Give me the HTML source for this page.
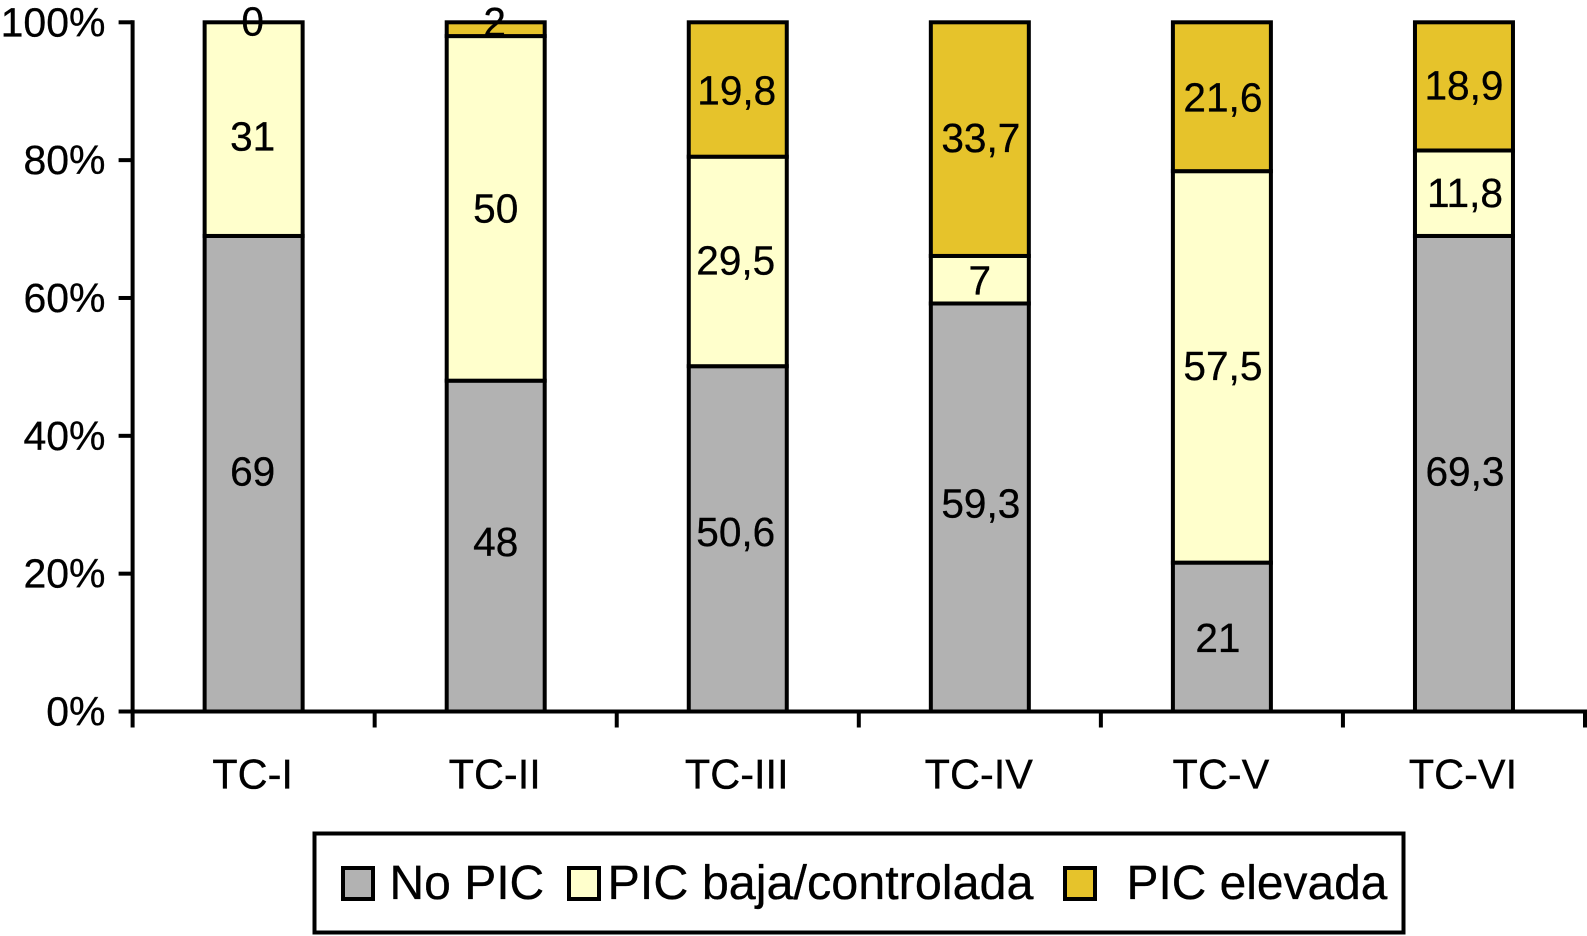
<!DOCTYPE html>
<html lang="es">
<head>
<meta charset="utf-8">
<title>PIC por categoría TC</title>
<style>
html,body{margin:0;padding:0;background:#fff;width:1587px;height:936px;overflow:hidden}
svg{display:block;font-family:"Liberation Sans",Arial,sans-serif;fill:#000}
text{stroke:#000;stroke-width:.3px}
</style>
</head>
<body>
<svg id="chart" width="1587" height="936" viewBox="0 0 1587 936" xmlns="http://www.w3.org/2000/svg">
  <g id="bars"></g>
  <g id="axes"></g>
  <g id="values"></g>
  <g>
    <rect x="314.5" y="833.5" width="1089" height="99" fill="#fff" stroke="#000" stroke-width="4"/>
    <rect x="343" y="868" width="30" height="31" fill="#b2b2b2" stroke="#000" stroke-width="4"/>
    <text x="389.5" y="899" font-size="48">No PIC</text>
    <rect x="569" y="868" width="30" height="31" fill="#ffffcc" stroke="#000" stroke-width="4"/>
    <text x="607.5" y="899" font-size="48.5">PIC baja/controlada</text>
    <rect x="1065" y="868" width="30" height="31" fill="#e6c32b" stroke="#000" stroke-width="4"/>
    <text x="1126.5" y="899" font-size="47.9">PIC elevada</text>
  </g>
</svg>
<script>
const categories = ['TC-I', 'TC-II', 'TC-III', 'TC-IV', 'TC-V', 'TC-VI'];
const noPic = [69, 48, 50.1, 59.2, 21.6, 69];
const picBaja = [31, 50, 30.4, 6.9, 56.8, 12.4];
const picElevada = [0, 2, 19.5, 33.9, 21.6, 18.6];
const noPicLabels = ['69', '48', '50,6', '59,3', '21', '69,3'];
const picBajaLabels = ['31', '50', '29,5', '7', '57,5', '11,8'];
const picElevadaLabels = ['0', '2', '19,8', '33,7', '21,6', '18,9'];
const yTicks = [0, 20, 40, 60, 80, 100];

const NS = 'http://www.w3.org/2000/svg';
const plotLeft = 132.6, plotRight = 1585, plotTop = 22.3, plotBottom = 711.5;
const bandWidth = (plotRight - plotLeft) / categories.length;
const barWidth = 98;
const xBand = i => plotLeft + bandWidth * (i + 0.5);
const yScale = v => plotBottom - (v / 100) * (plotBottom - plotTop);
const fills = ['#b2b2b2', '#ffffcc', '#e6c32b'];
const seriesNames = ['no-pic', 'pic-baja', 'pic-elevada'];
const series = [noPic, picBaja, picElevada];
const seriesLabels = [noPicLabels, picBajaLabels, picElevadaLabels];
/* hand-placed label offsets of the original figure, in px: [series][category] */
const nudgeY = [[-1, -3, -6, -3, 2, -1], [8.5, 1, 0, 2, 0, 1], [0, -6, 2, 0, 2, 0]];
const nudgeX = [[-1, 0, -2, 1, -4, 1], [-1, 0, -2, 0, 1, 1], [-1, -1, -1, 1, 1, 0]];

function make(tag, attrs) {
  const el = document.createElementNS(NS, tag);
  for (const k in attrs) el.setAttribute(k, attrs[k]);
  return el;
}
const barsG = document.getElementById('bars');
const axesG = document.getElementById('axes');
const valuesG = document.getElementById('values');

categories.forEach((cat, i) => {
  let base = 0;
  series.forEach((vals, s) => {
    const v = vals[i];
    const top = base + v;
    const y0 = yScale(base), y1 = yScale(top);
    if (v > 0) {
      const r = make('rect', {x: xBand(i) - barWidth / 2, y: y1, width: barWidth, height: y0 - y1, fill: fills[s], stroke: '#000', 'stroke-width': 4});
      
      
      barsG.appendChild(r);
    }
    const t = make('text', {x: xBand(i) + nudgeX[s][i], y: (y0 + y1) / 2 + nudgeY[s][i] + 13, 'font-size': 40.6, 'text-anchor': 'middle'});
    t.textContent = seriesLabels[s][i];
    
    
    valuesG.appendChild(t);
    base = top;
  });
  const lbl = make('text', {x: xBand(i) - 1, y: 788.5, 'font-size': 41.5, 'text-anchor': 'middle'});
  lbl.textContent = cat;
  
  
  axesG.appendChild(lbl);
  const tick = make('line', {x1: plotLeft + bandWidth * (i + 1), x2: plotLeft + bandWidth * (i + 1), y1: plotBottom, y2: plotBottom + 16, stroke: '#000', 'stroke-width': 4});
  
  
  axesG.appendChild(tick);
});

const xAxis = make('line', {x1: plotLeft - 2, x2: plotRight + 2, y1: plotBottom, y2: plotBottom, stroke: '#000', 'stroke-width': 4});


axesG.appendChild(xAxis);
const firstTick = make('line', {x1: plotLeft, x2: plotLeft, y1: plotBottom, y2: plotBottom + 16, stroke: '#000', 'stroke-width': 4});


axesG.appendChild(firstTick);
const yAxis = make('line', {x1: plotLeft, x2: plotLeft, y1: plotTop - 2, y2: plotBottom, stroke: '#000', 'stroke-width': 4});


axesG.appendChild(yAxis);

yTicks.forEach(v => {
  const tick = make('line', {x1: plotLeft - 14, x2: plotLeft, y1: yScale(v), y2: yScale(v), stroke: '#000', 'stroke-width': 4});
  
  
  axesG.appendChild(tick);
  const t = make('text', {x: 105.5, y: yScale(v) + 14, 'font-size': 41, 'text-anchor': 'end'});
  t.textContent = v + '%';
  
  
  axesG.appendChild(t);
});
</script>
</body>
</html>
